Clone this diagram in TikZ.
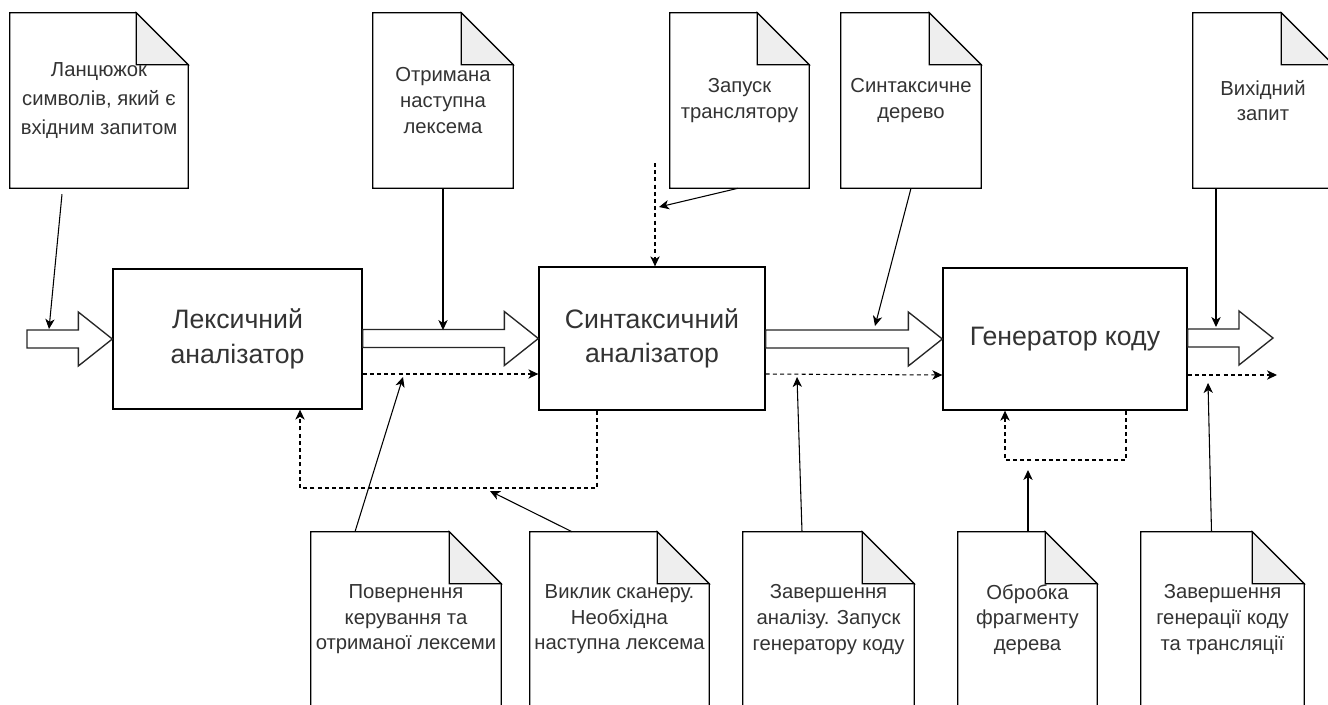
\documentclass[tikz,border=0pt]{standalone}
\usepackage{fontspec}
\setmainfont{Liberation Sans}
\usetikzlibrary{arrows.meta,calc}

\newdimen\pxu
\pxu=0.75pt

\definecolor{txt}{HTML}{333333}
\definecolor{foldgray}{HTML}{EEEEEE}

% outline of a note sheet with a folded top right corner
\newcommand\docoutline[1]{%
  \draw[docline] (#1.north west) -- ([xshift=-52\pxu]#1.north east)
    -- ([yshift=-52\pxu]#1.north east) -- (#1.south east)
    -- (#1.south west) -- cycle;
  \filldraw[docline,fill=foldgray] ([xshift=-52\pxu]#1.north east)
    -- ([yshift=-52\pxu]#1.north east)
    -- ([xshift=-52\pxu,yshift=-52\pxu]#1.north east) -- cycle;
}

% hollow block arrow from the first point to the tip at the second point
\newcommand\fatarrow[2]{%
  \draw[fat] let \p1=(#1), \p2=(#2) in
    (\x1,\y2+9\pxu) -- (\x2-34\pxu,\y2+9\pxu) -- (\x2-34\pxu,\y2+27\pxu)
    -- (\x2,\y2) -- (\x2-34\pxu,\y2-27\pxu) -- (\x2-34\pxu,\y2-9\pxu)
    -- (\x1,\y2-9\pxu) -- cycle;
}

\tikzset{
  box/.style={draw=black, line width=1pt, fill=white, inner sep=0pt,
    align=center, text=txt, font=\fontsize{20pt}{26pt}\selectfont},
  docnode/.style={inner sep=0pt, minimum height=175\pxu, align=center,
    text=txt, font=\fontsize{15.2pt}{19.2pt}\selectfont},
  docline/.style={draw=black, line width=1pt, line join=miter},
  fat/.style={draw=black!85, line width=1pt, fill=white, line join=miter},
  arr/.style={draw=black, line width=0.8pt,
    -{Stealth[length=7.5pt,width=7pt,inset=2.2pt]}},
  dasharr/.style={arr, dash pattern=on 3pt off 2.4pt},
  dashline/.style={draw=black, line width=0.8pt, dash pattern=on 3pt off 2.4pt},
}

\begin{document}
\begin{tikzpicture}[x=0.75pt,y=-0.75pt]
\clip (0,0) rectangle (1328,704);
\fill[white] (0,0) rectangle (1328,704);

% processing stages
\node[box, minimum width=249\pxu, minimum height=140\pxu] (lex) at (237.5,339)
  {Лексичний\\аналізатор};
\node[box, minimum width=226\pxu, minimum height=143\pxu] (syn) at (652,338.5)
  {Синтаксичний\\аналізатор};
\node[box, minimum width=244\pxu, minimum height=142\pxu] (gen) at (1065,339)
  {Генератор коду};

% notes above
\node[docnode, minimum width=178\pxu, font=\fontsize{15.2pt}{22pt}\selectfont] (d1) at (99,100.5)
  {Ланцюжок\\символів, який є\\вхідним запитом};
\node[docnode, minimum width=140\pxu] (d2) at (443,100.5)
  {Отримана\\наступна\\лексема};
\node[docnode, minimum width=139\pxu] (d3) at (739.5,100.5)
  {Запуск\\транслятору};
\node[docnode, minimum width=140\pxu] (d4) at (911,100.5)
  {Синтаксичне\\дерево};
\node[docnode, minimum width=140\pxu] (d5) at (1263,100.5)
  {Вихідний\\запит};

% notes below
\node[docnode, minimum width=190\pxu] (b1) at (406,619.5)
  {Повернення\\керування та\\отриманої лексеми};
\node[docnode, minimum width=179\pxu] (b2) at (619.5,619.5)
  {Виклик сканеру.\\Необхідна\\наступна лексема};
\node[docnode, minimum width=171\pxu] (b3) at (828.5,619.5)
  {Завершення\\аналізу. Запуск\\генератору коду};
\node[docnode, minimum width=139\pxu] (b4) at (1027.5,619.5)
  {Обробка\\фрагменту\\дерева};
\node[docnode, minimum width=163\pxu] (b5) at (1222.5,619.5)
  {Завершення\\генерації коду\\та трансляції};

\foreach \n in {d1,d2,d3,d4,d5,b1,b2,b3,b4,b5} {\docoutline{\n}}

% data flow (block arrows)
\coordinate (inflow) at (27,339);
\coordinate (outflow) at (1273,338);
\fatarrow{inflow}{lex.west}
\fatarrow{lex.east}{syn.west}
\fatarrow{syn.east}{gen.west}
\fatarrow{gen.east}{outflow}

% control flow (dashed)
\coordinate (dout) at (1277,375);
\draw[dasharr] ([yshift=-35\pxu]lex.east) -- ([yshift=-35.5\pxu]syn.west);
\draw[dasharr] ([yshift=-35.5\pxu]syn.east) -- ([yshift=-36\pxu]gen.west);
\draw[dasharr] ([yshift=-36\pxu]gen.east) -- (dout);

\coordinate (fb) at (300,488);
\draw[dasharr] ([xshift=-55\pxu]syn.south) |- (fb) -- ([xshift=62.5\pxu]lex.south);
\coordinate (gl) at (1005,460);
\draw[dasharr] ([xshift=61\pxu]gen.south) |- (gl) -- ([xshift=-60\pxu]gen.south);
\coordinate (start) at (655,163);
\draw[dasharr] (start) -- (start |- syn.north);

% annotation pointers
\coordinate (t1) at (49,329);
\coordinate (t2) at (443,330);
\coordinate (t3) at (659,207);
\coordinate (t4) at (875,326);
\coordinate (t5) at (1216,327);
\coordinate (u1) at (403,377);
\coordinate (u2) at (490,491);
\coordinate (u3) at (797,377);
\coordinate (u4) at (1028,470);
\coordinate (u5) at (1208,383);

\draw[arr] ([xshift=-37\pxu,yshift=-6\pxu]d1.south) -- (t1);
\draw[arr] (d2.south) -- (t2);
\draw[arr] ([xshift=-1.5\pxu]d3.south) -- (t3);
\draw[arr] (d4.south) -- (t4);
\draw[arr] ([xshift=-47\pxu]d5.south) -- (t5);
\draw[arr] ([xshift=-51\pxu]b1.north) -- (u1);
\draw[arr] ([xshift=-47.5\pxu]b2.north) -- (u2);
\draw[arr] ([xshift=-26.5\pxu]b3.north) -- (u3);
\draw[arr] ([xshift=0.5\pxu]b4.north) -- (u4);
\draw[arr] ([xshift=-11\pxu]b5.north) -- (u5);
\end{tikzpicture}
\end{document}
